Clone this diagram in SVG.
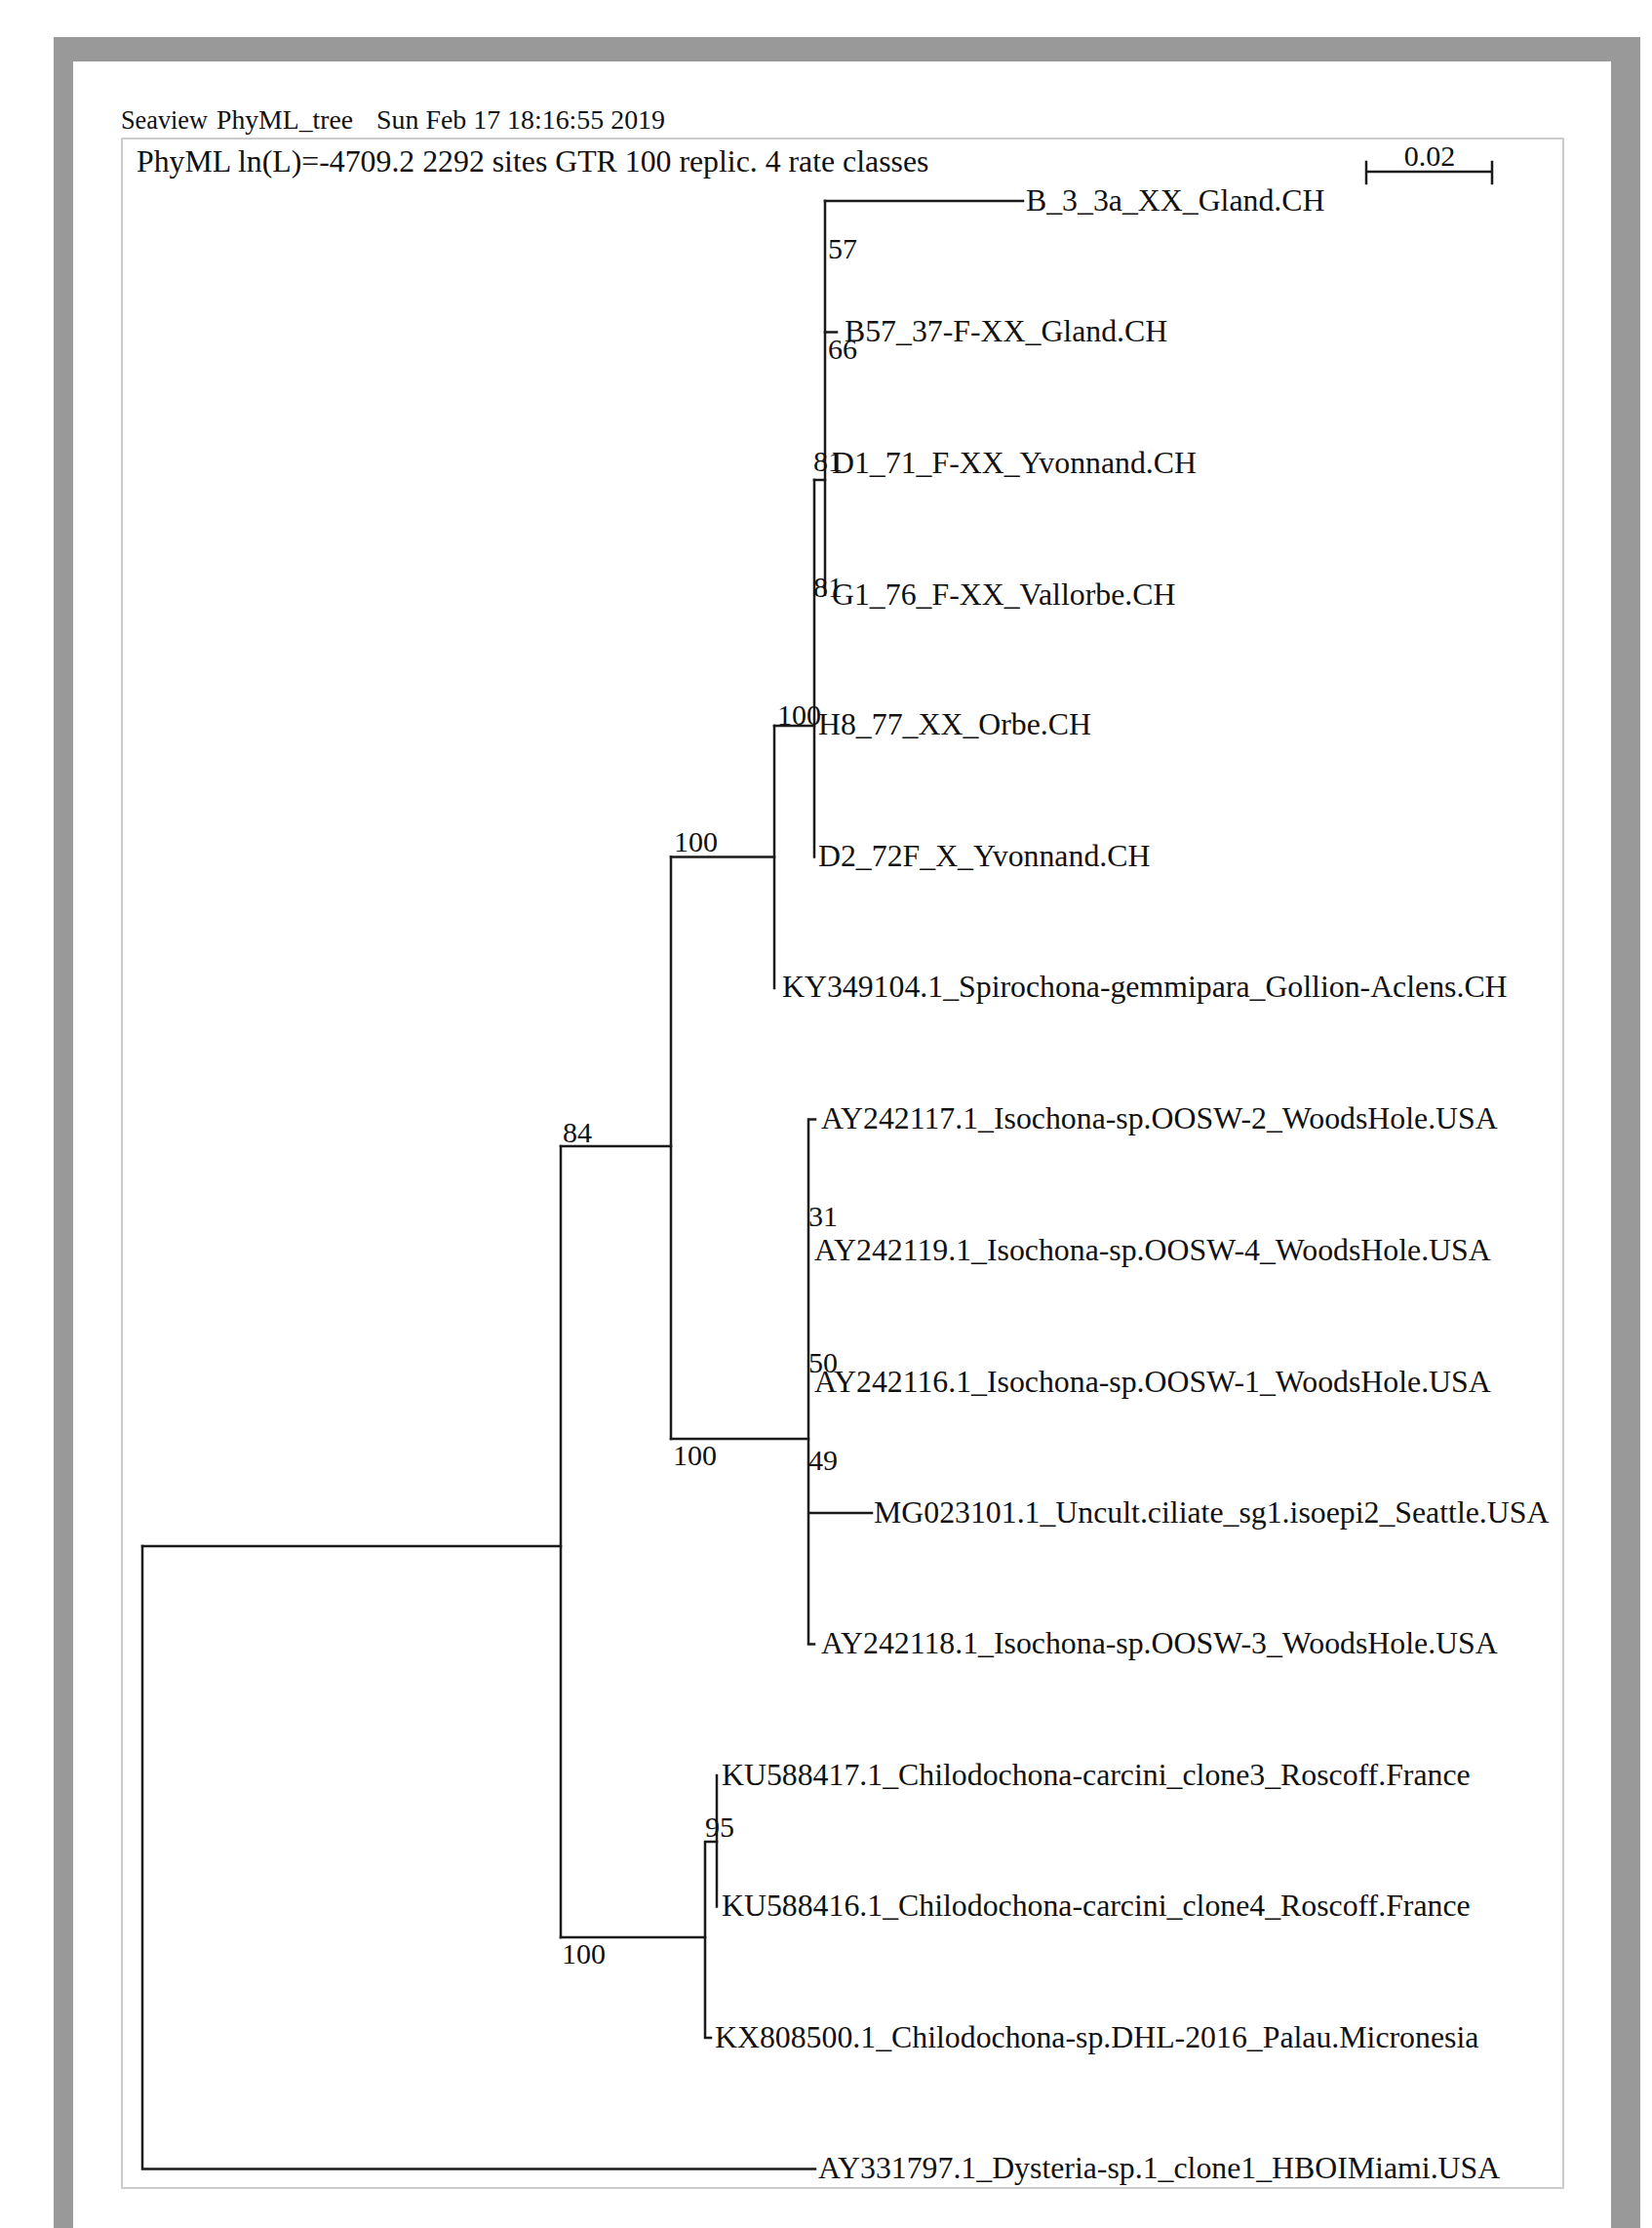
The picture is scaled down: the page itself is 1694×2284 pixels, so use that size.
<svg xmlns="http://www.w3.org/2000/svg" width="1694" height="2284" viewBox="0 0 1694 2284">
<style>
.br{stroke:#1a1a1a;stroke-width:2.5;fill:none;stroke-linecap:square}
.lf{font-family:"Liberation Serif","Times New Roman",serif;font-size:31.8px;fill:#111}
.bs{font-family:"Liberation Serif","Times New Roman",serif;font-size:30px;fill:#111}
.hd{font-family:"Liberation Serif","Times New Roman",serif;font-size:31.8px;fill:#111}
.sv{font-family:"Liberation Serif","Times New Roman",serif;font-size:28px;fill:#111}
</style>
<rect width="1694" height="2284" fill="#ffffff"/>
<g id="frame">
<path d="M55,38 H1682 V2284 H1652 V63 H75 V2284 H55 Z" fill="#999999"/>
<rect x="125" y="142" width="1478" height="2101" fill="#ffffff" stroke="#cccccc" stroke-width="2"/>
</g>
<g id="header">
<text class="sv" x="124" y="132" textLength="89" lengthAdjust="spacingAndGlyphs">Seaview</text>
<text class="sv" x="222" y="132" textLength="140" lengthAdjust="spacingAndGlyphs">PhyML_tree</text>
<text class="sv" x="386" y="132" textLength="296" lengthAdjust="spacingAndGlyphs">Sun Feb 17 18:16:55 2019</text>
<text class="hd" x="140" y="176">PhyML ln(L)=-4709.2 2292 sites GTR 100 replic. 4 rate classes</text>
</g>
<g id="scalebar">
<path class="br" d="M1401,176 H1530 M1401,166 V188 M1530,166 V188"/>
<text class="bs" x="1466" y="170" text-anchor="middle">0.02</text>
</g>
<g id="connectors">
<path class="br" d="M146,1585 V2223.5 H836"/>
<path class="br" d="M146,1585 H575"/>
<path class="br" d="M575,1175 V1986"/>
<path class="br" d="M575,1175 H688 M575,1986 H723"/>
<path class="br" d="M688,878.5 V1475"/>
<path class="br" d="M688,878.5 H794 M688,1475 H829"/>
<path class="br" d="M794,744 V1013"/>
<path class="br" d="M794,744 H835"/>
<path class="br" d="M835,492 V878.5"/>
<path class="br" d="M835,492 H846"/>
<path class="br" d="M846,206 V609.5"/>
<path class="br" d="M846,206 H1049 M846,340.5 H858"/>
<path class="br" d="M829,1147.5 V1685.5 M829,1147.5 H836 M829,1685.5 H835 M829,1551 H894"/>
<path class="br" d="M723,1888 V2089 M723,2089 H729 M723,1888 H735"/>
<path class="br" d="M735,1820 V1954.5"/>
</g>
<g id="bootstrap">
<text class="bs" x="849" y="265">57</text>
<text class="bs" x="849" y="368">66</text>
<text class="bs" x="834" y="483">81</text>
<text class="bs" x="834" y="612">81</text>
<text class="bs" x="797" y="743">100</text>
<text class="bs" x="691" y="873">100</text>
<text class="bs" x="577" y="1171">84</text>
<text class="bs" x="690" y="1502">100</text>
<text class="bs" x="829" y="1257">31</text>
<text class="bs" x="829" y="1407">50</text>
<text class="bs" x="829" y="1507">49</text>
<text class="bs" x="723" y="1883">95</text>
<text class="bs" x="576" y="2013">100</text>
</g>
<g id="leaf1"><text class="lf" x="1052" y="216">B_3_3a_XX_Gland.CH</text></g>
<g id="leaf2"><text class="lf" x="866" y="350">B57_37-F-XX_Gland.CH</text></g>
<g id="leaf3"><text class="lf" x="853" y="485">D1_71_F-XX_Yvonnand.CH</text></g>
<g id="leaf4"><text class="lf" x="853" y="620">G1_76_F-XX_Vallorbe.CH</text></g>
<g id="leaf5"><text class="lf" x="839" y="753">H8_77_XX_Orbe.CH</text></g>
<g id="leaf6"><text class="lf" x="839" y="888">D2_72F_X_Yvonnand.CH</text></g>
<g id="leaf7"><text class="lf" x="802" y="1022">KY349104.1_Spirochona-gemmipara_Gollion-Aclens.CH</text></g>
<g id="leaf8"><text class="lf" x="842" y="1157">AY242117.1_Isochona-sp.OOSW-2_WoodsHole.USA</text></g>
<g id="leaf9"><text class="lf" x="835" y="1292">AY242119.1_Isochona-sp.OOSW-4_WoodsHole.USA</text></g>
<g id="leaf10"><text class="lf" x="835" y="1427">AY242116.1_Isochona-sp.OOSW-1_WoodsHole.USA</text></g>
<g id="leaf11"><text class="lf" x="896" y="1561">MG023101.1_Uncult.ciliate_sg1.isoepi2_Seattle.USA</text></g>
<g id="leaf12"><text class="lf" x="842" y="1695">AY242118.1_Isochona-sp.OOSW-3_WoodsHole.USA</text></g>
<g id="leaf13"><text class="lf" x="740" y="1830">KU588417.1_Chilodochona-carcini_clone3_Roscoff.France</text></g>
<g id="leaf14"><text class="lf" x="740" y="1964">KU588416.1_Chilodochona-carcini_clone4_Roscoff.France</text></g>
<g id="leaf15"><text class="lf" x="733" y="2099">KX808500.1_Chilodochona-sp.DHL-2016_Palau.Micronesia</text></g>
<g id="leaf16"><text class="lf" x="839" y="2233">AY331797.1_Dysteria-sp.1_clone1_HBOIMiami.USA</text></g>
</svg>
